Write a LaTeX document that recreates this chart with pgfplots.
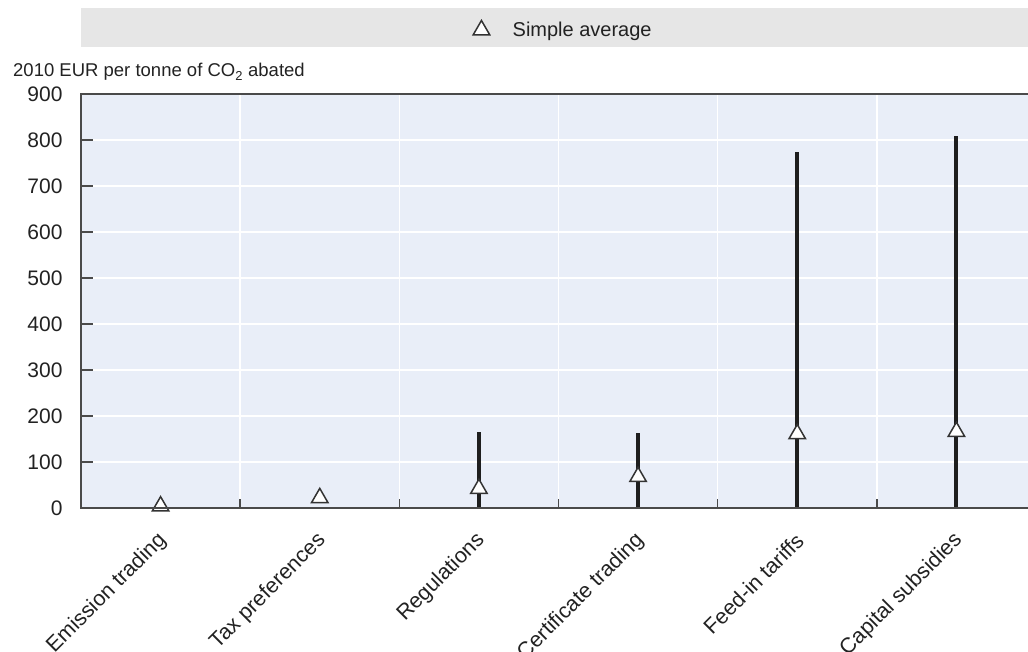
\documentclass[border=0pt]{standalone}
\usepackage{fontspec}
\setmainfont{Liberation Sans}
\usepackage{pgfplots}
\pgfplotsset{compat=1.18}
\definecolor{plotbg}{HTML}{E9EEF8}
\definecolor{bandgray}{HTML}{E6E6E6}
\definecolor{axisgray}{HTML}{4A4A4A}
\definecolor{txt}{HTML}{222222}
\definecolor{rangeblk}{HTML}{1E1E1E}
\newcommand{\yf}{\fontsize{21}{24}\selectfont}
\newcommand{\xf}{\fontsize{21.5}{24}\selectfont}
\begin{document}
\begin{tikzpicture}[x=1pt,y=1pt]
\useasboundingbox (-81,-143) rectangle (947,508);
\fill[bandgray] (0,461) rectangle (960,500);
\begin{axis}[
  at={(0pt,0pt)}, anchor=south west,
  scale only axis, width=955pt, height=414pt,
  xmin=-0.5, xmax=5.5, ymin=0, ymax=900,
  axis background/.style={fill=plotbg},
  axis line style={draw=none},
  tick pos=left,
  xtick={0,1,2,3,4,5},
  xticklabels={Emission trading,Tax preferences,Regulations,Certificate trading,Feed-in tariffs,Capital subsidies},
  minor xtick={0.5,1.5,2.5,3.5,4.5},
  major x tick style={draw=none},
  xminorgrids=true, xmajorgrids=false, ymajorgrids=true,
  grid style={white, line width=1.5pt},
  minor grid style={white, line width=1.5pt},
  ytick={0,100,...,900},
  tick align=inside,
  major tick length=12pt, minor tick length=9pt,
  tick style={axisgray, line width=1.5pt},
  /pgf/number format/assume math mode=true,
  yticklabel style={font=\yf, text=txt, xshift=-15pt},
  xticklabel style={font=\xf, text=txt, rotate=45, anchor=east, xshift=-15.5pt, yshift=-22.5pt},
  legend style={at={(axis description cs:0.4105,1.1546)}, anchor=west, draw=none, fill=none,
    inner sep=0pt, font=\fontsize{20}{22}\selectfont, text=txt,
    /tikz/every odd column/.append style={column sep=21pt}},
  legend image code/.code={\draw[#1] plot coordinates {(0pt,0pt)};},
]
\addplot[rangeblk, line width=4pt, forget plot] coordinates {(2,3) (2,166)};
\addplot[rangeblk, line width=4pt, forget plot] coordinates {(3,3) (3,162)};
\addplot[rangeblk, line width=4pt, forget plot] coordinates {(4,3) (4,775)};
\addplot[rangeblk, line width=4pt, forget plot] coordinates {(5,3) (5,808)};
\addplot[only marks, mark=triangle*, mark size=9.5pt, mark options={fill=white, draw=gray!40!black, line width=1.5pt}]
  coordinates {(0,4) (1,22) (2,42) (3,68) (4,161) (5,166)};
\addlegendentry{Simple average}
\end{axis}
\draw[axisgray, line width=2pt] (960,0) -- (0,0) -- (0,414) -- (960,414);
\node[anchor=base west, font=\fontsize{18.5}{22}\selectfont, text=txt, inner sep=0pt] at (-68,431) {2010 EUR per tonne of CO\textsubscript{2} abated};
\end{tikzpicture}
\end{document}
